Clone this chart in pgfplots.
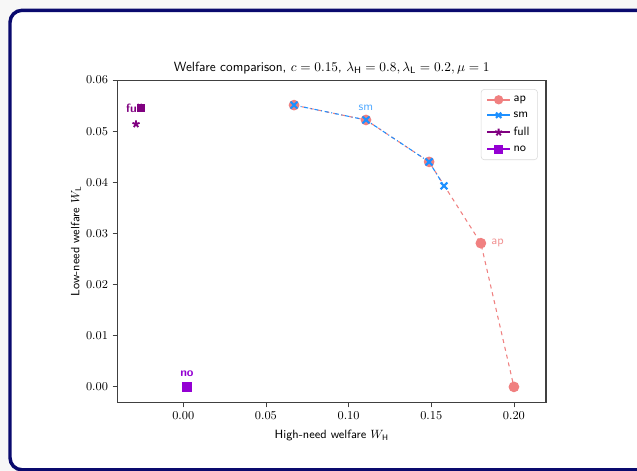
\documentclass[border=0pt]{standalone}
\usepackage{fontspec}
\usepackage{pgfplots}
\pgfplotsset{compat=1.18}

\definecolor{apcol}{HTML}{F08080}
\definecolor{smcol}{HTML}{1E90FF}
\definecolor{fullcol}{HTML}{800080}
\definecolor{nocol}{HTML}{9400D3}
\definecolor{framecol}{HTML}{0A0A6E}
\definecolor{bgcol}{HTML}{F7F7F7}
\definecolor{spinecol}{HTML}{404040}

\begin{document}
\begin{tikzpicture}
% page: 637x471 px, 1px = 0.75pt
\useasboundingbox[fill=bgcol] (0,0) rectangle (477.75pt,353.25pt);
\begin{scope}
\clip (0,0) rectangle (477.75pt,353.25pt);
\draw[framecol, line width=2.6pt, fill=white, rounded corners=9pt]
  (7.5pt,0.9pt) rectangle (492pt,345.5pt);
\end{scope}

\begin{axis}[
    at={(88pt,51.2pt)}, anchor=south west,
    scale only axis,
    width=321.5pt, height=242pt,
    xmin=-0.0399, xmax=0.2194,
    ymin=-0.0031, ymax=0.06,
    xtick={0,0.05,0.1,0.15,0.2},
    ytick={0,0.01,0.02,0.03,0.04,0.05,0.06},
    scaled ticks=false,
    xticklabel style={/pgf/number format/.cd, fixed, fixed zerofill, precision=2},
    yticklabel style={/pgf/number format/.cd, fixed, fixed zerofill, precision=2},
    tick label style={font=\small},
    tick align=outside,
    xtick pos=bottom, ytick pos=left,
    major tick length=3.5pt,
    axis line style={spinecol, line width=0.8pt},
    every tick/.style={spinecol, line width=0.6pt},
    title={\sffamily Welfare comparison, $c=0.15$, $\lambda_{\mathsf{H}}=0.8, \lambda_{\mathsf{L}}=0.2, \mu=1$},
    title style={font=\normalsize, yshift=-5pt},
    xlabel={\sffamily High-need welfare $W_{\mathsf{H}}$},
    ylabel={\sffamily Low-need welfare $W_{\mathsf{L}}$},
    label style={font=\small},
    xlabel style={yshift=-1pt},
    ylabel style={yshift=-3pt},
    legend cell align=left,
    legend style={font=\small\sffamily, draw=gray!30, rounded corners=2.5pt,
      inner xsep=4pt, inner ysep=3pt, row sep=2pt,
      at={(0.981,0.972)}, anchor=north east},
    legend image post style={solid, opacity=1, line width=1.3pt, mark size=2.8pt},
    clip=false,
]
\addplot[apcol, line width=0.8pt, dashed, mark=*, mark size=3.6pt,
  mark options={solid, fill=apcol}] coordinates {
  (0.067,0.0551) (0.1105,0.0522) (0.1487,0.0440) (0.1800,0.0281) (0.2000,0.0000)
};
\addlegendentry{ap}
\addplot[smcol, line width=0.8pt, dash dot, mark=x, mark size=3.6pt,
  mark options={solid, line width=1.6pt}] coordinates {
  (0.067,0.0551) (0.1105,0.0522) (0.1487,0.0440) (0.1577,0.0393)
};
\addlegendentry{sm}
\addplot[fullcol, line width=1pt, mark=star, mark size=2.8pt,
  mark options={solid, fill=fullcol, line width=1.4pt}] coordinates {
  (-0.0286,0.0514)
};
\addlegendentry{full}
\addplot[nocol, line width=1pt, mark=square*, mark size=3.3pt,
  mark options={solid, fill=nocol}] coordinates {
  (0.0022,0.0000)
};
\addlegendentry{no}
\addplot[fullcol, only marks, mark=square*, mark size=2.6pt, forget plot] coordinates {
  (-0.0259,0.0545)
};

\node[font=\small\sffamily, text=smcol!75] at (axis cs:0.1105,0.0545) {sm};
\node[font=\small\sffamily, text=apcol!85, anchor=west] at (axis cs:0.1835,0.0281) {ap};
\node[font=\small\sffamily\bfseries, text=fullcol] at (axis cs:-0.0295,0.0545) {full};
\node[font=\small\sffamily\bfseries, text=nocol] at (axis cs:0.0022,0.0025) {no};
\end{axis}
\end{tikzpicture}
\end{document}
